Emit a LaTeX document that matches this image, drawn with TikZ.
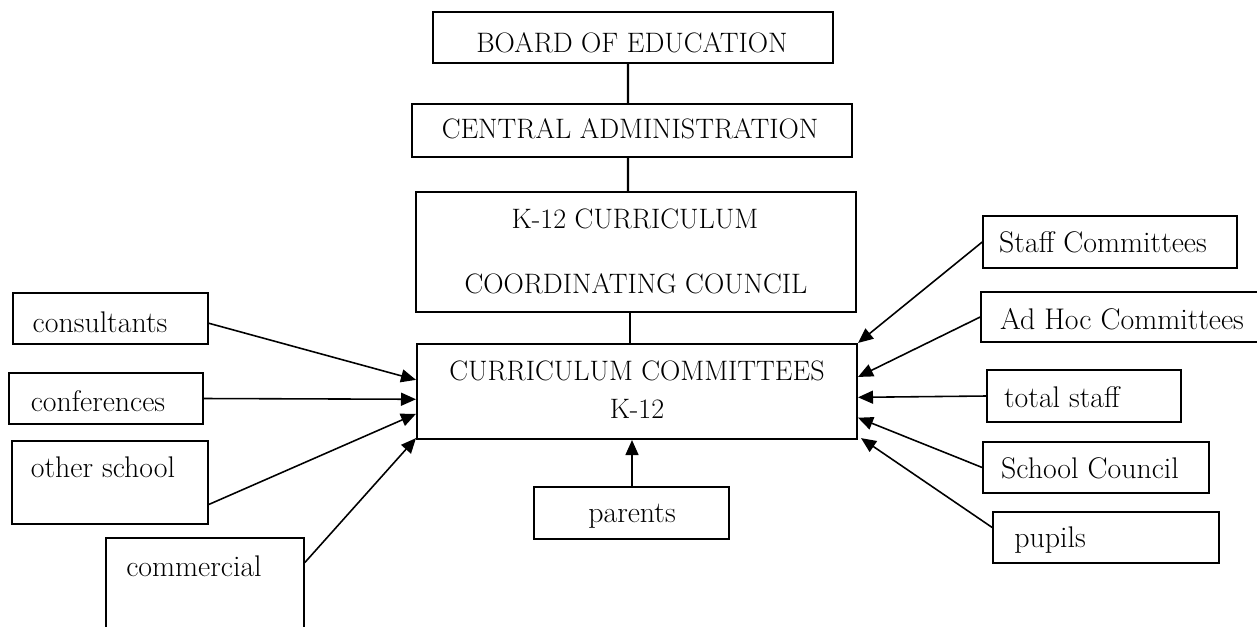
\documentclass[tikz,border=0pt]{standalone}
\usetikzlibrary{arrows.meta,calc}
\begin{document}
\begin{tikzpicture}[x=0.02cm,y=-0.02cm,
  box/.style={draw=black,line width=0.9pt,inner sep=0pt,fill=none},
  mainbox/.style={draw=black,line width=1.2pt,inner sep=0pt},
  txt/.style={inner sep=0pt,font=\fontsize{16}{19}\selectfont},
  ltxt/.style={inner sep=0pt,font=\fontsize{17}{20}\selectfont},
  heavy/.style={line width=1.4pt},
  thin/.style={line width=0.9pt},
  arr/.style={line width=0.9pt,-{Triangle[length=0.3cm,width=0.26cm]}}]
\clip (0,0) rectangle (1257,626);
% boxes
\node[box,minimum width=8cm,minimum height=1.02cm] (board) at (633,37.5) {};
\node[box,minimum width=8.8cm,minimum height=1.06cm] (central) at (632,130.5) {};
\node[box,minimum width=8.8cm,minimum height=2.4cm] (k12) at (636,252) {};
\node[mainbox,minimum width=8.8cm,minimum height=1.9cm] (cc) at (637,391.5) {};
\node[box,minimum width=3.9cm,minimum height=1.02cm] (cons) at (110.5,318.5) {};
\node[box,minimum width=3.88cm,minimum height=1.02cm] (conf) at (106,398.5) {};
\node[box,minimum width=3.92cm,minimum height=1.66cm] (other) at (110,482.5) {};
\node[box,minimum width=3.96cm,minimum height=2.04cm] (comm) at (205,589) {};
\node[box,minimum width=5.08cm,minimum height=1.04cm] (staff) at (1110,242) {};
\node[box,minimum width=5.6cm,minimum height=1.0cm] (adhoc) at (1121,317) {};
\node[box,minimum width=3.88cm,minimum height=1.04cm] (total) at (1084,396) {};
\node[box,minimum width=4.52cm,minimum height=1.02cm] (school) at (1096,467.5) {};
\node[box,minimum width=4.52cm,minimum height=1.02cm] (pupils) at (1106,537.5) {};
\node[box,minimum width=3.9cm,minimum height=1.04cm] (parents) at (631.5,513) {};
% texts
\node[txt] (board-t) at (632,43) {BOARD OF EDUCATION};
\node[txt] (central-t) at (630,128.5) {CENTRAL ADMINISTRATION};
\node[txt] (k12-t1) at (635,219) {K-12 CURRICULUM};
\node[txt] (k12-t2) at (636,284) {COORDINATING COUNCIL};
\node[txt] (cc-t1) at (637,371) {CURRICULUM COMMITTEES};
\node[txt] (cc-t2) at (637,409) {K-12};
\node[ltxt] (cons-t) at (100,322) {consultants};
\node[ltxt] (conf-t) at (98,401) {conferences};
\node[ltxt] (other-t) at (103,467) {other school};
\node[ltxt] (comm-t) at (194,566) {commercial};
\node[ltxt] (staff-t) at (1103,242.5) {Staff Committees};
\node[ltxt] (adhoc-t) at (1122,319) {Ad Hoc Committees};
\node[ltxt] (total-t) at (1062,397) {total staff};
\node[ltxt] (school-t) at (1090,468) {School Council};
\node[ltxt] (pupils-t) at (1050,540) {pupils};
\node[ltxt] (parents-t) at (632,516) {parents};
% vertical connectors
\draw[heavy] ([xshift=-0.1cm]board.south) -- ([xshift=-0.08cm]central.north);
\draw[heavy] ([xshift=-0.08cm]central.north |- central.south) -- ([xshift=-0.16cm]k12.north);
\draw[thin] ([xshift=-0.12cm]k12.south) -- ([xshift=-0.14cm]cc.north);
% arrows into the committees box
\draw[arr] ($(cons.north east)!0.59!(cons.south east)$) -- ($(cc.north west)!0.38!(cc.south west)$);
\draw[arr] (conf.east) -- ($(cc.north west)!0.58!(cc.south west)$);
\draw[arr] ($(other.north east)!0.76!(other.south east)$) -- ($(cc.north west)!0.73!(cc.south west)$);
\draw[arr] ($(comm.north east)!0.245!(comm.south east)$) -- ($(cc.north west)!0.98!(cc.south west)$);
\draw[arr] (staff.west) -- ($(cc.north east)!0.0!(cc.south east)$);
\draw[arr] (adhoc.west) -- ($(cc.north east)!0.35!(cc.south east)$);
\draw[arr] (total.west) -- ($(cc.north east)!0.56!(cc.south east)$);
\draw[arr] (school.west) -- ($(cc.north east)!0.77!(cc.south east)$);
\draw[arr] ($(pupils.north west)!0.31!(pupils.south west)$) -- ([xshift=0.06cm]$(cc.north east)!0.98!(cc.south east)$);
\draw[arr] ([xshift=0.01cm]parents.north) -- ([xshift=0.01cm]parents.north |- cc.south);
\end{tikzpicture}
\end{document}
